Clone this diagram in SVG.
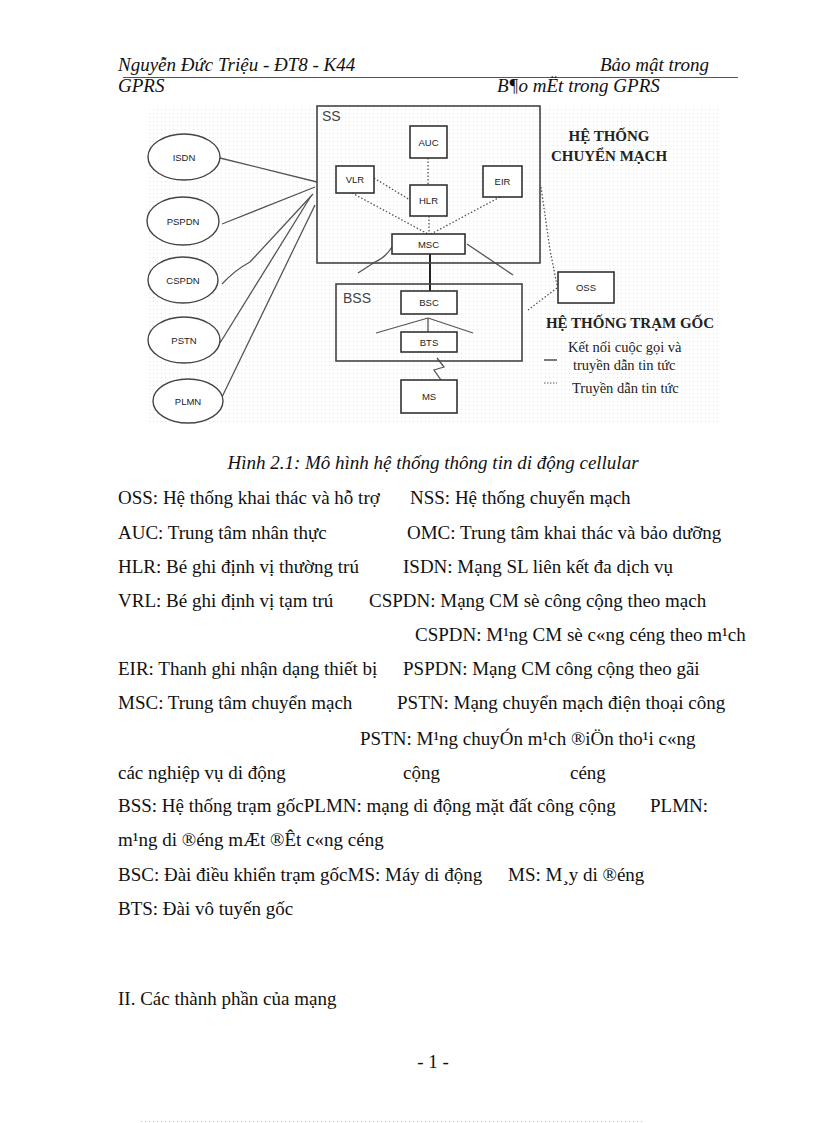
<svg xmlns="http://www.w3.org/2000/svg" width="816" height="1123" viewBox="0 0 816 1123">
<defs>
<pattern id="dots" width="4" height="4" patternUnits="userSpaceOnUse">
<rect width="4" height="4" fill="#ffffff"/>
<rect x="1" y="1" width="1" height="1" fill="#e0e4da"/>
</pattern>
</defs>
<style>
.hdr{font-family:"Liberation Serif",serif;font-style:italic;font-size:19px;fill:#111}
.body{font-family:"Liberation Serif",serif;font-size:19px;fill:#111}
.box{fill:#fff;stroke:#333;stroke-width:1.6}
.frame{fill:none;stroke:#444;stroke-width:1.6}
.lbl{font-family:"Liberation Sans",Arial,sans-serif;font-size:9.5px;fill:#222;text-anchor:middle}
.big{font-family:"Liberation Sans",Arial,sans-serif;font-size:14px;fill:#444}
.ttl{font-family:"Liberation Serif",serif;font-weight:bold;font-size:15px;fill:#222}
.leg{font-family:"Liberation Serif",serif;font-size:14.5px;fill:#222}
.solid{fill:none;stroke:#555;stroke-width:1.3}
.dot{fill:none;stroke:#555;stroke-width:1.3;stroke-dasharray:1.5 2}
.ell{fill:#fff;stroke:#444;stroke-width:1.4}
</style>
<rect width="816" height="1123" fill="#fff"/>
<g id="header">
<text class="hdr" x="118" y="71">Nguyễn Đức Triệu - ĐT8 - K44</text>
<text class="hdr" x="709" y="71" text-anchor="end">Bảo mật trong</text>
<line x1="123" y1="77.5" x2="738" y2="77.5" stroke="#555" stroke-width="1"/>
<text class="hdr" x="118" y="92">GPRS</text>
<text class="hdr" x="497" y="92">B¶o mËt trong GPRS</text>
</g>
<rect x="146" y="106" width="574" height="319" fill="url(#dots)"/>
<g id="connectors">
<line class="solid" x1="220" y1="158" x2="317" y2="182"/>
<line class="solid" x1="222" y1="224" x2="315" y2="187"/>
<path class="solid" d="M222,284 Q235,270 250,262 L313,194"/>
<line class="solid" x1="220" y1="343" x2="311" y2="196"/>
<line class="solid" x1="222" y1="397" x2="315" y2="205"/>
<line class="dot" x1="428" y1="158" x2="428" y2="185"/>
<line class="dot" x1="374" y1="178" x2="410" y2="200"/>
<line class="dot" x1="352" y1="193" x2="428" y2="234"/>
<line class="dot" x1="429" y1="216" x2="429" y2="234" stroke-width="2.2"/>
<line class="dot" x1="500" y1="197" x2="431" y2="234"/>
<path class="solid" d="M392,247 Q385,258 375,262 L358,273"/>
<line class="solid" x1="467" y1="244" x2="513" y2="275"/>
<line x1="430" y1="254" x2="430" y2="291" stroke="#222" stroke-width="2"/>
<line class="solid" x1="428" y1="318" x2="376" y2="333"/>
<line class="solid" x1="428" y1="318" x2="473" y2="333"/>
<line class="solid" x1="428" y1="318" x2="428" y2="332"/>
<polyline class="solid" points="437,358 444,367 434,370 441,380"/>
<polyline class="dot" points="541,187 550,250 557,285"/>
<line class="dot" x1="557" y1="288" x2="528" y2="310"/>
</g>
<g id="SS">
<rect class="frame" x="317" y="106" width="223" height="157"/>
<text class="big" x="322" y="121">SS</text>
</g>
<g id="AUC"><rect class="box" x="410" y="126" width="37" height="32"/><text class="lbl" x="428.5" y="145.5">AUC</text></g>
<g id="VLR"><rect class="box" x="336" y="166" width="38" height="27"/><text class="lbl" x="355" y="182.5">VLR</text></g>
<g id="HLR"><rect class="box" x="410" y="185" width="37" height="31"/><text class="lbl" x="428.5" y="203.5">HLR</text></g>
<g id="EIR"><rect class="box" x="483" y="166" width="39" height="31"/><text class="lbl" x="502.5" y="184.5" font-size="8">EIR</text></g>
<g id="MSC"><rect class="box" x="392" y="234" width="73" height="20"/><text class="lbl" x="428.5" y="247.5">MSC</text></g>
<g id="BSS">
<rect class="frame" x="336" y="284" width="186" height="77"/>
<text class="big" x="343" y="303">BSS</text>
</g>
<g id="BSC"><rect class="box" x="401" y="291" width="56" height="23"/><text class="lbl" x="429" y="306">BSC</text></g>
<g id="BTS"><rect class="box" x="401" y="332" width="56" height="20"/><text class="lbl" x="429" y="345.5">BTS</text></g>
<g id="MS"><rect class="box" x="401" y="380" width="56" height="33"/><text class="lbl" x="429" y="400">MS</text></g>
<g id="OSS"><rect class="box" x="558" y="272" width="56" height="31"/><text class="lbl" x="586" y="290.5">OSS</text></g>
<g id="ISDN"><ellipse class="ell" cx="184" cy="157" rx="36" ry="23"/><text class="lbl" x="184" y="160.5">ISDN</text></g>
<g id="PSPDN"><ellipse class="ell" cx="183" cy="221" rx="36" ry="24"/><text class="lbl" x="183" y="224.5">PSPDN</text></g>
<g id="CSPDN"><ellipse class="ell" cx="183" cy="280" rx="35" ry="23"/><text class="lbl" x="183" y="283.5">CSPDN</text></g>
<g id="PSTN"><ellipse class="ell" cx="184" cy="340" rx="36" ry="23"/><text class="lbl" x="184" y="343.5">PSTN</text></g>
<g id="PLMN"><ellipse class="ell" cx="188" cy="401" rx="35" ry="22"/><text class="lbl" x="188" y="404.5">PLMN</text></g>
<g id="legend">
<text class="ttl" x="609" y="141" text-anchor="middle">HỆ THỐNG</text>
<text class="ttl" x="609" y="161" text-anchor="middle">CHUYỂN MẠCH</text>
<text class="ttl" x="630" y="328" text-anchor="middle">HỆ THỐNG TRẠM GỐC</text>
<text class="leg" x="568" y="352">Kết nối cuộc gọi và</text>
<text class="leg" x="573" y="370">truyền dẫn tin tức</text>
<line x1="544" y1="360" x2="557" y2="360" stroke="#333" stroke-width="1.3"/>
<line x1="544" y1="383" x2="557" y2="383" stroke="#555" stroke-width="1" stroke-dasharray="1.5 1.5"/>
<text class="leg" x="572" y="393">Truyền dẫn tin tức</text>
</g>
<g id="text">
<text class="hdr" x="433" y="469" text-anchor="middle">Hình 2.1: Mô hình hệ thống thông tin di động cellular</text>
<text class="body" x="118" y="504">OSS: Hệ thống khai thác và hỗ trợ</text>
<text class="body" x="410" y="504">NSS: Hệ thống chuyển mạch</text>
<text class="body" x="118" y="539">AUC: Trung tâm nhân thực</text>
<text class="body" x="407" y="539">OMC: Trung tâm khai thác và bảo dưỡng</text>
<text class="body" x="118" y="573">HLR: Bé ghi định vị thường trú</text>
<text class="body" x="403" y="573">ISDN: Mạng SL liên kết đa dịch vụ</text>
<text class="body" x="118" y="607">VRL: Bé ghi định vị tạm trú</text>
<text class="body" x="369" y="607">CSPDN: Mạng CM sè công cộng theo mạch</text>
<text class="body" x="415" y="641">CSPDN: M¹ng CM sè c«ng céng theo m¹ch</text>
<text class="body" x="118" y="675">EIR: Thanh ghi nhận dạng thiết bị</text>
<text class="body" x="403" y="675">PSPDN: Mạng CM công cộng theo gãi</text>
<text class="body" x="118" y="709">MSC: Trung tâm chuyển mạch</text>
<text class="body" x="397" y="709">PSTN: Mạng chuyển mạch điện thoại công</text>
<text class="body" x="360" y="745">PSTN: M¹ng chuyÓn m¹ch ®iÖn tho¹i c«ng</text>
<text class="body" x="118" y="779">các nghiệp vụ di động</text>
<text class="body" x="403" y="779">cộng</text>
<text class="body" x="570" y="779">céng</text>
<text class="body" x="118" y="812">BSS: Hệ thống trạm gốcPLMN: mạng di động mặt đất công cộng</text>
<text class="body" x="650" y="812">PLMN:</text>
<text class="body" x="118" y="846">m¹ng di ®éng mÆt ®Êt c«ng céng</text>
<text class="body" x="118" y="881">BSC: Đài điều khiển trạm gốcMS: Máy di động</text>
<text class="body" x="508" y="881">MS: M¸y di ®éng</text>
<text class="body" x="118" y="915">BTS: Đài vô tuyến gốc</text>
<text class="body" x="118" y="1005">II. Các thành phần của mạng</text>
<text class="body" x="433" y="1068" text-anchor="middle">- 1 -</text>
</g>
<line x1="141" y1="1121.5" x2="643" y2="1121.5" stroke="#bbb" stroke-width="1" stroke-dasharray="1 3"/>
</svg>
